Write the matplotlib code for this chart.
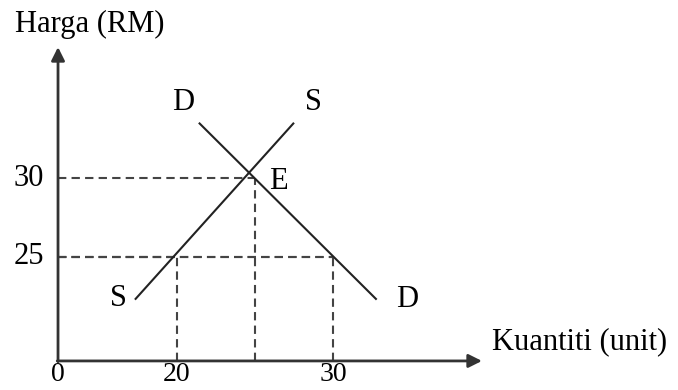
import matplotlib
matplotlib.use("Agg")
import matplotlib.pyplot as plt

# ---- data (in chart units) ----
x_ticks = [20, 25, 30]          # quantity guide positions
x_tick_labels = ["20", "", "30"]
y_ticks = [25, 30]              # price guide positions
y_tick_labels = ["25", "30"]
eq_q, eq_p = 25, 30             # equilibrium E
supply_q = [17.3, 27.5]
supply_p = [22.3, 33.5]
demand_q = [21.4, 32.8]
demand_p = [33.5, 22.3]
# guide segments: (q, p) corner points
guide_q = [20, 25, 30]
guide_p = [25, 30, 25]

origin_q, origin_p = 12.37, 18.42
x_axis_end, y_axis_end = 39.55, 38.29

plt.rcParams['font.family'] = ['Liberation Serif', 'DejaVu Serif']

fig = plt.figure(figsize=(6.78, 3.90), dpi=100)
ax = fig.add_axes([0, 0, 1, 1])
ax.set_xlim(8.65, 52.12)
ax.set_ylim(16.58, 41.27)
ax.axis('off')

axis_col = '#333333'
dash_col = '#444444'

# axes with arrows
ax.annotate('', xy=(x_axis_end, origin_p), xytext=(origin_q - 0.05, origin_p),
            arrowprops=dict(arrowstyle='-|>', lw=2, color=axis_col, mutation_scale=20,
                            shrinkA=0, shrinkB=0))
ax.annotate('', xy=(origin_q, y_axis_end), xytext=(origin_q, origin_p - 0.05),
            arrowprops=dict(arrowstyle='-|>', lw=2, color=axis_col, mutation_scale=20,
                            shrinkA=0, shrinkB=0))

# dashed guides
dash = dict(color=dash_col, lw=1.5, linestyle=(0, (4, 2.5)))
for q, p in zip(guide_q, guide_p):
    ax.plot([q, q], [origin_p, p], **dash)
    ax.plot([origin_q, q], [p, p], **dash)
ax.plot([origin_q, guide_q[-1]], [y_ticks[0], y_ticks[0]], **dash)

# supply and demand
ax.plot(supply_q, supply_p, color='#222222', lw=1.5, solid_capstyle='butt')
ax.plot(demand_q, demand_p, color='#222222', lw=1.5, solid_capstyle='butt')

fs = 22
# tick labels
for y, lab in zip(y_ticks, y_tick_labels):
    ax.text(10.5, y, lab, fontsize=fs, ha='center', va='center')
for x, lab in zip(x_ticks, x_tick_labels):
    if lab:
        ax.text(x, 17.15, lab, fontsize=20, ha='center', va='baseline')
ax.text(origin_q, 17.15, "0", fontsize=20, ha='center', va='baseline')

# curve labels
ax.text(20.38, 34.81, "D", fontsize=fs, ha='center', va='center')
ax.text(28.72, 34.81, "S", fontsize=fs, ha='center', va='center')
ax.text(26.47, 29.75, "E", fontsize=fs, ha='center', va='center')
ax.text(16.22, 22.4, "S", fontsize=fs, ha='center', va='center')
ax.text(34.74, 22.28, "D", fontsize=fs, ha='center', va='center')

# axis titles
ax.text(9.62, 39.75, "Harga (RM)", fontsize=fs, ha='left', va='center')
ax.text(40.19, 19.62, "Kuantiti (unit)", fontsize=fs, ha='left', va='center')

fig.savefig("out.png", dpi=100)
